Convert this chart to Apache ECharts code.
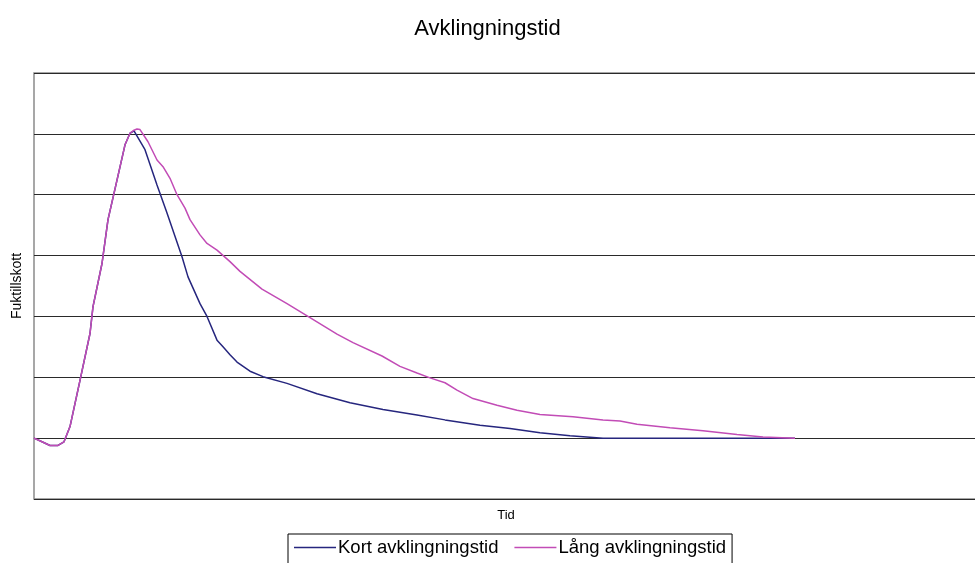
<!DOCTYPE html>
<html>
<head>
<meta charset="utf-8">
<title>Avklingningstid</title>
<script src="https://cdn.jsdelivr.net/npm/echarts@6/dist/echarts.min.js"></script>
<style>
  html, body { margin: 0; padding: 0; background: #fff; }
  #chart { width: 975px; height: 563px; }
</style>
</head>
<body>
<div id="chart"></div>
<script>
// Time (arbitrary units) and moisture addition for the two decay curves
const kortTid = [0, 0.8, 1.6, 2.4, 3.0, 3.6, 4.6, 5.6, 5.9, 6.8, 7.4, 8.3, 9.1, 9.6, 10.0,
  11.1, 12.3, 13.3, 14.8, 15.4, 16.6, 17.3, 18.3, 18.9, 19.6, 20.3, 21.6, 22.9, 25.3,
  28.3, 31.6, 34.9, 38.3, 41.1, 44.6, 47.6, 50.6, 53.6, 56.9, 76.1];
const kortVarde = [0, -0.06, -0.12, -0.12, -0.06, 0.19, 0.95, 1.72, 2.16, 2.87, 3.59, 4.24, 4.82, 5.01, 5.05,
  4.74, 4.16, 3.70, 2.98, 2.65, 2.21, 2.0, 1.61, 1.50, 1.37, 1.25, 1.10, 1.01, 0.90,
  0.73, 0.58, 0.47, 0.38, 0.30, 0.21, 0.16, 0.09, 0.04, 0, 0];

const langTid = [0, 0.8, 1.6, 2.4, 3.0, 3.6, 4.6, 5.6, 5.9, 6.8, 7.4, 8.3, 9.1, 9.6, 10.0,
  10.3, 10.6, 11.4, 12.3, 12.9, 13.6, 14.3, 15.1, 15.6, 16.6, 17.3, 18.3, 19.6, 20.6,
  22.8, 25.3, 27.6, 30.3, 31.9, 34.8, 36.6, 38.3, 39.6, 41.1, 42.3, 43.9, 46.3, 48.3,
  50.6, 53.9, 56.9, 58.6, 60.3, 63.6, 66.9, 70.3, 72.9, 76.1];
const langVarde = [0, -0.06, -0.12, -0.12, -0.06, 0.19, 0.95, 1.72, 2.16, 2.87, 3.59, 4.24, 4.82, 5.01, 5.06,
  5.08, 5.07, 4.87, 4.57, 4.46, 4.27, 4.00, 3.78, 3.59, 3.34, 3.20, 3.09, 2.90, 2.74,
  2.45, 2.21, 1.98, 1.71, 1.57, 1.35, 1.18, 1.07, 0.99, 0.91, 0.79, 0.65, 0.54, 0.46,
  0.39, 0.35, 0.30, 0.28, 0.23, 0.17, 0.12, 0.06, 0.02, 0];

const serieNamn = ['Kort avklingningstid', 'Lång avklingningstid'];
const serieFarg = ['#26267e', '#c24cb6'];

const pairs = (xs, ys) => xs.map((x, i) => [x, ys[i]]);

const chart = echarts.init(document.getElementById('chart'), null, { renderer: 'canvas' });
const font = '"Liberation Sans", Arial, sans-serif';

chart.setOption({
  animation: false,
  backgroundColor: '#fff',
  textStyle: { fontFamily: font },
  title: {
    text: 'Avklingningstid',
    left: 'center',
    top: 13,
    textStyle: { fontFamily: font, fontSize: 22, fontWeight: 'normal', color: '#000' }
  },
  legend: {
    data: serieNamn,
    icon: 'rect',
    left: 288,
    top: 534,
    padding: [4, 6, 8, 6],
    itemWidth: 42,
    itemHeight: 1.5,
    itemGap: 16,
    borderColor: '#000',
    borderWidth: 1,
    textStyle: { fontFamily: font, fontSize: 18.5, color: '#000', padding: [0, 0, 0, -3] }
  },
  grid: {
    left: 34, top: 73, right: -3, bottom: 64,
    outerBoundsMode: 'none', containLabel: false,
    show: true, borderColor: '#8a8a8a', borderWidth: 1.5, backgroundColor: 'transparent'
  },
  xAxis: {
    type: 'value',
    min: 0,
    max: 94.4,
    name: 'Tid',
    nameLocation: 'middle',
    nameGap: 10,
    nameTextStyle: { fontFamily: font, fontSize: 13, color: '#000' },
    axisLine: { show: false },
    axisTick: { show: false },
    axisLabel: { show: false },
    splitLine: { show: false }
  },
  yAxis: {
    type: 'value',
    min: -1,
    max: 6,
    interval: 1,
    name: 'Fuktillskott',
    nameLocation: 'middle',
    nameRotate: 90,
    nameGap: 10,
    nameTextStyle: { fontFamily: font, fontSize: 14, color: '#000' },
    axisLine: { show: false },
    axisTick: { show: false },
    axisLabel: { show: false },
    splitLine: { show: true, lineStyle: { color: '#2a2a2a', width: 1.2 } }
  },
  series: [
    {
      name: serieNamn[0],
      type: 'line',
      data: pairs(kortTid, kortVarde),
      symbol: 'none',
      smooth: false,
      lineStyle: { color: serieFarg[0], width: 1.5 },
      itemStyle: { color: serieFarg[0] }
    },
    {
      name: serieNamn[1],
      type: 'line',
      data: pairs(langTid, langVarde),
      symbol: 'none',
      smooth: false,
      lineStyle: { color: serieFarg[1], width: 1.5 },
      itemStyle: { color: serieFarg[1] }
    }
  ]
});
</script>
</body>
</html>
